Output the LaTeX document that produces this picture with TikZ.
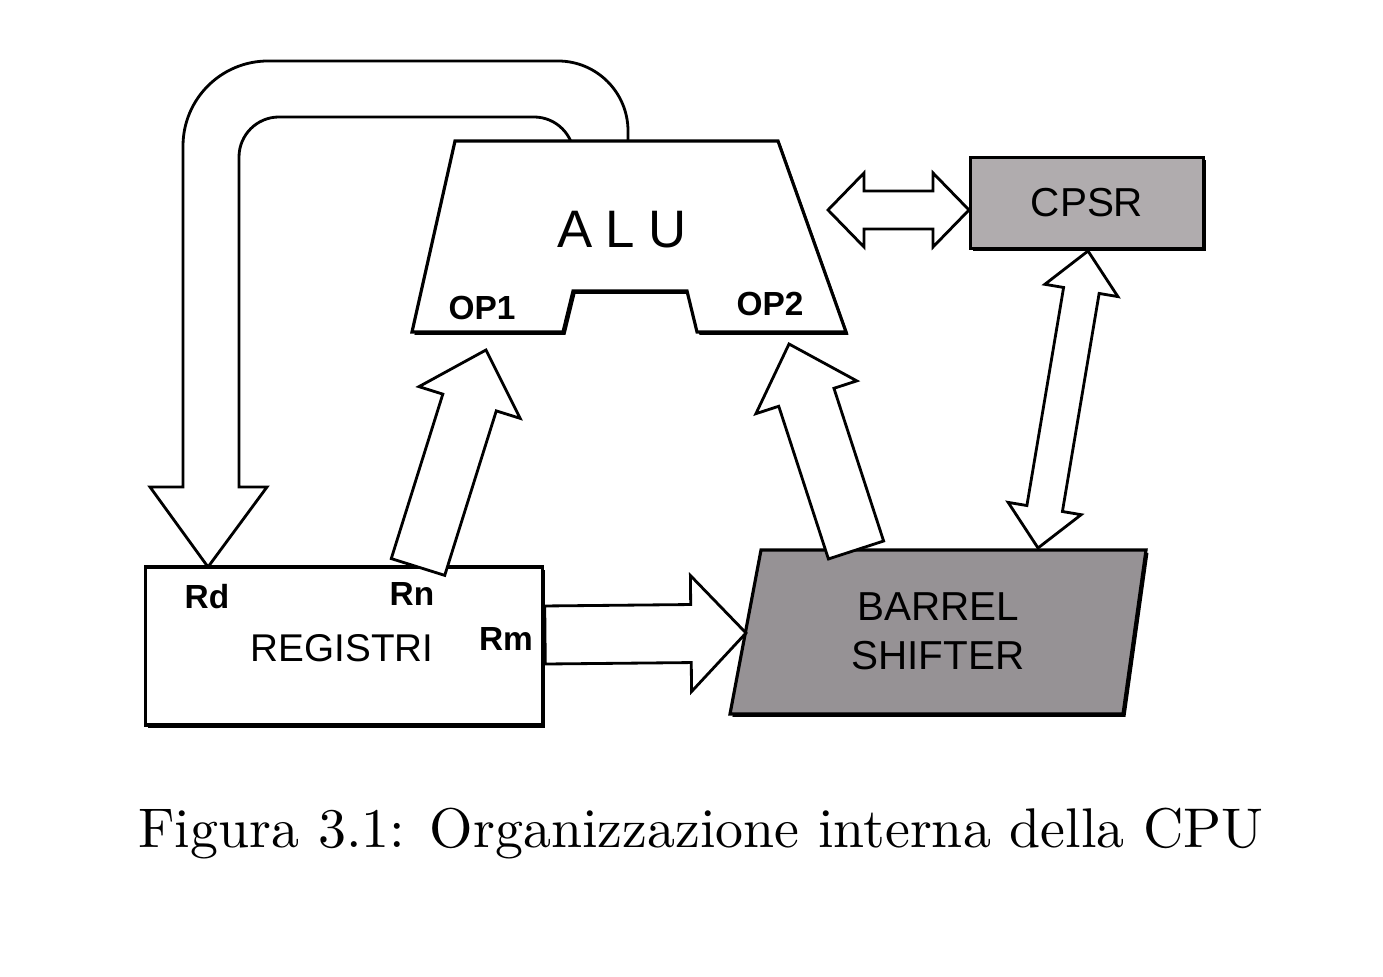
\documentclass[tikz,border=0pt]{standalone}
\usepackage{fontspec}
\newfontfamily\arial{Liberation Sans}
\usetikzlibrary{calc,positioning,shadows}

\definecolor{cpsrgray}{RGB}{176,172,174}
\definecolor{shiftgray}{RGB}{150,146,149}

% fat arrow: from, to, shaft half width, head half width, head length
\newcommand{\fatarrow}[5]{%
\coordinate (hb) at ($(#2)!#5!(#1)$);
\draw[blockarrow] ($(#1)!#3!90:(#2)$) -- ($(hb)!#3!90:(#2)$) -- ($(hb)!#4!90:(#2)$) -- (#2)
  -- ($(hb)!#4!-90:(#2)$) -- ($(hb)!#3!-90:(#2)$) -- ($(#1)!#3!-90:(#2)$) -- cycle;}
\newcommand{\fatdarrow}[5]{%
\coordinate (ha) at ($(#1)!#5!(#2)$);
\coordinate (hb) at ($(#2)!#5!(#1)$);
\draw[blockarrow] (#1) -- ($(ha)!#4!90:(#2)$) -- ($(ha)!#3!90:(#2)$) -- ($(hb)!#3!90:(#2)$)
  -- ($(hb)!#4!90:(#2)$) -- (#2) -- ($(hb)!#4!-90:(#2)$) -- ($(hb)!#3!-90:(#2)$)
  -- ($(ha)!#3!-90:(#2)$) -- ($(ha)!#4!-90:(#2)$) -- cycle;}

\begin{document}
\begin{tikzpicture}[x=0.01cm,y=-0.01cm,
box/.style={
draw=black,
line width=0.9pt,
drop shadow={shadow xshift=0.7pt,shadow yshift=-0.8pt,fill=black,opacity=1}
},
blockarrow/.style={
draw=black,
line width=0.8pt,
fill=white
},
lbl/.style={font=\arial\bfseries\fontsize{9.5}{11}\selectfont,inner sep=0pt},
big/.style={font=\arial\fontsize{11.5}{14}\selectfont,inner sep=0pt,align=center}]

\useasboundingbox (0,0) rectangle (1383,977);

\draw[blockarrow] (628,141) [rounded corners=7mm] -- (628,61) [rounded corners=8.5mm] -- (183,61)
  [sharp corners] -- (183,487) -- (150,487) -- (208,567) -- (267,487) -- (239,487)
  [rounded corners=4mm] -- (239,117) -- (574,117) [sharp corners] -- (574,141);

\draw[box,fill=white] (455,141) -- (778,141) -- (846,332) -- (697,332) -- (687,291)
  -- (573,291) -- (563,332) -- (412,332) -- cycle;
\node[font=\arial\fontsize{15}{18}\selectfont\addfontfeature{LetterSpace=25}] (alu) at (622,230) {ALU};
\node[lbl] (op1) at (482,308) {OP1};
\node[lbl] (op2) at (770,304) {OP2};

\node[box,fill=white,minimum width=3.96cm,minimum height=1.58cm] (reg) at (344,646) {};
\node[big,font=\arial\fontsize{11}{14}\selectfont] (regt) at (342,648) {REGISTRI};
\node[lbl] (rd) at (207,597) {Rd};
\node[lbl] (rn) at (412,594) {Rn};
\node[lbl] (rm) at (506,639) {Rm};

\node[box,fill=cpsrgray,minimum width=2.33cm,minimum height=0.91cm,big] (cpsr) at (1087,203) {CPSR};

\draw[box,fill=shiftgray] (761,550) -- (1146,550) -- (1123,714) -- (730,714) -- cycle;
\node[big] (shift) at (938,631) {BARREL\\SHIFTER};

\coordinate (rnout) at (418,567);
\coordinate (op1in) at (486,350);
\coordinate (bsout) at (856,550);
\coordinate (op2in) at (789,344);
\coordinate (rmout) at (545,635);
\coordinate (bsin) at (746,633);
\coordinate (alur) at (828,210);
\coordinate (cpsrl) at (969,210);
\coordinate (cpsrb) at (1088,251);
\coordinate (bstop) at (1038,548);

\fatarrow{rnout}{op1in}{2.8mm}{5.3mm}{5.5mm}
\fatarrow{bsout}{op2in}{2.9mm}{5.3mm}{5.6mm}
\fatarrow{rmout}{bsin}{2.9mm}{5.8mm}{5.5mm}
\fatdarrow{alur}{cpsrl}{1.9mm}{3.7mm}{3.6mm}
\fatdarrow{cpsrb}{bstop}{1.8mm}{3.7mm}{4mm}

\node (cap) at (701,834) {\scalebox{1.59}{\normalsize Figura 3.1: Organizzazione interna della CPU}};

\end{tikzpicture}
\end{document}
